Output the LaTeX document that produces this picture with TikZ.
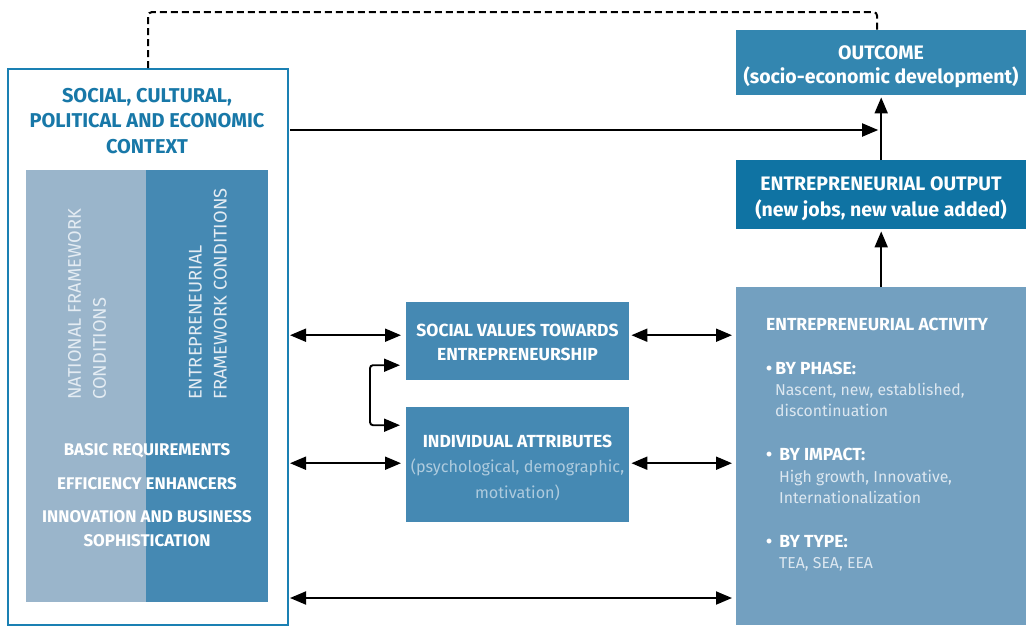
\documentclass[tikz,border=0pt]{standalone}
\usepackage{fontspec}
\setmainfont{Fira Sans}
\usetikzlibrary{arrows.meta}
\definecolor{ctxblue}{HTML}{1A80B3}
\definecolor{titleblue}{HTML}{1878A8}
\definecolor{lightcol}{HTML}{9AB5CB}
\definecolor{darkcol}{HTML}{4589B3}
\definecolor{outcomec}{HTML}{3386B0}
\definecolor{outputc}{HTML}{0F73A3}
\definecolor{activityc}{HTML}{73A0C0}
\definecolor{iatext}{HTML}{AECBDE}
\definecolor{actlight}{HTML}{DCE7F0}
\definecolor{rottext}{HTML}{E4ECF3}
\tikzset{
  boxnode/.style={inner sep=0pt, anchor=north west},
  boxtext/.style={inner sep=0pt, text=white, align=center},
  tipstyle/.style={},
  arr/.style={line width=1.9pt, -{Triangle[length=16pt,width=13pt]}},
  dbl/.style={line width=1.9pt, {Triangle[length=16pt,width=13pt]}-{Triangle[length=16pt,width=13pt]}},
  rottxt/.style={rotate=90, anchor=west, align=left, text=rottext, inner sep=0pt, font=\fontsize{18.3}{25}\selectfont},
  whitebold/.style={text=white, align=center, inner sep=0pt, font=\bfseries\fontsize{16.9}{24}\selectfont},
  actline/.style={anchor=west, inner sep=0pt, text height=12pt, text depth=3.5pt},
  acthead/.style={actline, text=white, font=\bfseries\fontsize{17.5}{21}\selectfont},
  actbody/.style={actline, text=actlight, font=\fontsize{15.8}{21}\selectfont},
}
\begin{document}
\begin{tikzpicture}[x=1pt,y=-1pt]
\useasboundingbox (0,0) rectangle (1026,625);
% context box
\node[draw=ctxblue, line width=2pt, fill=white, minimum width=280pt, minimum height=556pt, anchor=north west, inner sep=0pt] (ctx) at (7,68) {};
\node[font=\bfseries\fontsize{20}{25.5}\selectfont, text=titleblue, align=center, inner sep=0pt] (ttl) at (147,121) {SOCIAL, CULTURAL,\\POLITICAL AND ECONOMIC\\CONTEXT};
\fill[lightcol] (26,170) rectangle (146,602);
\fill[darkcol] (146,170) rectangle (268,602);
\node[rottxt] (nfc) at (87,400) {NATIONAL FRAMEWORK\\CONDITIONS};
\node[rottxt] (efc) at (208,400) {ENTREPRENEURIAL\\FRAMEWORK CONDITIONS};
\node[whitebold] (br) at (147,451) {BASIC REQUIREMENTS};
\node[whitebold] (ee) at (147,484) {EFFICIENCY ENHANCERS};
\node[whitebold] (ib) at (147,529) {INNOVATION AND BUSINESS\\SOPHISTICATION};
% middle boxes
\node[boxnode, fill=darkcol, minimum width=223pt, minimum height=78pt] (sv) at (406,302) {};
\node[boxtext, font=\bfseries\fontsize{17.5}{24}\selectfont] (svt) at (517.5,342) {SOCIAL VALUES TOWARDS\\ENTREPRENEURSHIP};
\node[boxnode, fill=darkcol, minimum width=223pt, minimum height=115pt] (ia) at (406,407) {};
\node[boxtext, font=\fontsize{16.2}{25.5}\selectfont] (iat) at (517.5,467.5) {{\bfseries\fontsize{17.5}{25.5}\selectfont INDIVIDUAL ATTRIBUTES}\\\textcolor{iatext}{(psychological, demographic,}\\\textcolor{iatext}{motivation)}};
% right boxes
\node[boxnode, fill=outcomec, minimum width=290pt, minimum height=65pt] (out) at (736,30) {};
\node[boxtext, font=\bfseries\fontsize{19.5}{24}\selectfont] (outt) at (881,67) {OUTCOME\\(socio-economic development)};
\node[boxnode, fill=outputc, minimum width=290pt, minimum height=69pt] (eo) at (736,160) {};
\node[boxtext, font=\bfseries\fontsize{19.5}{26}\selectfont] (eot) at (881,198.5) {ENTREPRENEURIAL OUTPUT\\(new jobs, new value added)};
\node[boxnode, fill=activityc, minimum width=290pt, minimum height=338pt] (act) at (736,287) {};
\node[acthead] (a0) at (766,326) {ENTREPRENEURIAL ACTIVITY};
\node[acthead] (a1) at (766,370) {•\hspace{3pt}BY PHASE:};
\node[actbody] (a2) at (775,391) {Nascent, new, established,};
\node[actbody] (a3) at (775,412) {discontinuation};
\node[acthead] (a4) at (766,456) {•\hspace{7pt}BY IMPACT:};
\node[actbody] (a5) at (779,478) {High growth, Innovative,};
\node[actbody] (a6) at (779,499) {Internationalization};
\node[acthead] (a7) at (766,543) {•\hspace{7pt}BY TYPE:};
\node[actbody] (a8) at (779,564) {TEA, SEA, EEA};
% connectors
\coordinate (topy) at (0,12);
\draw[line width=2pt, dash pattern=on 7pt off 4pt, rounded corners=4pt] (ctx.north) -- (ctx.north |- topy) -| ([xshift=-4pt]out.north);
\coordinate (hy) at (0,130);
\coordinate (hend) at ([xshift=-3pt]out.south);
\draw[arr, shorten <=1pt] (ctx.east |- hy) -- (hend |- hy);
\draw[arr, shorten >=2pt] (eo.north) -- (out.south);
\draw[arr, shorten >=2pt] (act.north) -- (eo.south);
\coordinate (svl) at ([yshift=6pt]sv.west);
\coordinate (svr) at ([yshift=6pt]sv.east);
\draw[dbl, shorten <=1pt, shorten >=5pt] (ctx.east |- svl) -- (svl);
\draw[dbl, shorten <=2pt, shorten >=4pt] (svr) -- (act.west |- svr);
\coordinate (ial) at ([yshift=1.5pt]ia.west);
\coordinate (iar) at ([yshift=1.5pt]ia.east);
\draw[dbl, shorten <=1pt, shorten >=5pt] (ctx.east |- ial) -- (ial);
\draw[dbl, shorten <=2pt, shorten >=4pt] (iar) -- (act.west |- iar);
\coordinate (by) at (0,598);
\draw[dbl, shorten <=1pt, shorten >=4pt] (ctx.east |- by) -- (act.west |- by);
\coordinate (b1) at ([yshift=-24pt]sv.west);
\coordinate (b2) at ([yshift=39.5pt]ia.west);
\draw[dbl, rounded corners=3pt, shorten <=6pt, shorten >=6pt] (b1) -- ++(-36,0) |- (b2);
\end{tikzpicture}
\end{document}
